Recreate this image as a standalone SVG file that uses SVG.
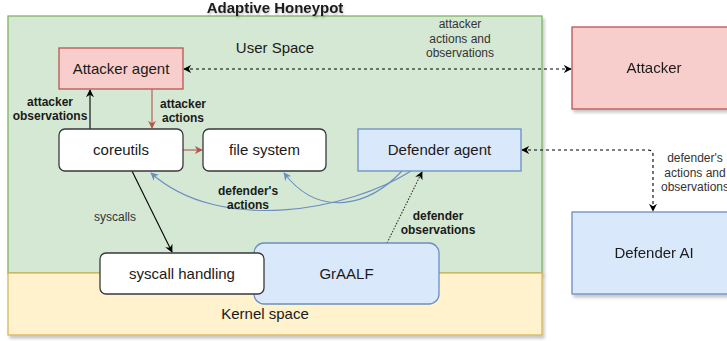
<svg xmlns="http://www.w3.org/2000/svg" width="727" height="341" viewBox="0 0 727 341">
  <defs>
    <filter id="shadow" x="-10%" y="-10%" width="130%" height="140%">
      <feDropShadow dx="2" dy="3" stdDeviation="1.5" flood-color="#000" flood-opacity="0.22"/>
    </filter>
    <filter id="textShadow" x="-10%" y="-30%" width="120%" height="170%">
      <feDropShadow dx="1" dy="2" stdDeviation="1" flood-color="#000" flood-opacity="0.2"/>
    </filter>
    <marker id="arrBlack" viewBox="0 0 10 10" refX="9" refY="5" markerWidth="8" markerHeight="8" markerUnits="userSpaceOnUse" orient="auto-start-reverse">
      <path d="M0,0 L10,5 L0,10 L3,5 z" fill="#000"/>
    </marker>
    <marker id="arrRed" viewBox="0 0 10 10" refX="9" refY="5" markerWidth="8" markerHeight="8" markerUnits="userSpaceOnUse" orient="auto">
      <path d="M0,0 L10,5 L0,10 L3,5 z" fill="#b85450"/>
    </marker>
    <marker id="arrBlue" viewBox="0 0 10 10" refX="9" refY="5" markerWidth="8" markerHeight="8" markerUnits="userSpaceOnUse" orient="auto">
      <path d="M0,0 L10,5 L0,10 L3,5 z" fill="#6c8ebf"/>
    </marker>
  </defs>
  <style>
    text { font-family: "Liberation Sans", Arial, sans-serif; }
    .node { font-size: 15px; fill: #1a1a1a; text-anchor: middle; }
    .lbl { font-size: 12px; fill: #333; text-anchor: middle; }
    .blbl { font-size: 12px; font-weight: bold; fill: #1a1a1a; text-anchor: middle; }
    .red { fill: #f8cecc; stroke: #b85450; stroke-width: 1.3; }
    .blue { fill: #dae8fc; stroke: #6c8ebf; stroke-width: 1.3; }
    .plain { fill: #fff; stroke: #36393d; stroke-width: 1.3; }
    .edge { fill: none; stroke-width: 1.1; }
  </style>

  <!-- containers -->
  <g id="user-space" filter="url(#shadow)">
    <rect x="8" y="16" width="534" height="257" fill="#d5e8d4" stroke="#82b366" stroke-width="1.3"/>
  </g>
  <g id="kernel-space" filter="url(#shadow)">
    <rect x="8" y="273" width="534" height="62" fill="#fff2cc" stroke="#d6b656" stroke-width="1.3"/>
  </g>
  <text x="275" y="12.5" font-size="15" font-weight="bold" fill="#1a1a1a" text-anchor="middle" filter="url(#textShadow)">Adaptive Honeypot</text>
  <text x="275" y="53" class="node">User Space</text>
  <text x="265" y="319" class="node">Kernel space</text>

  <!-- connectors -->
  <g id="connectors">
    <line class="edge" x1="184" y1="69" x2="571" y2="69" stroke="#000" stroke-dasharray="3 3" marker-start="url(#arrBlack)" marker-end="url(#arrBlack)"/>
    <line class="edge" x1="90" y1="129" x2="90" y2="90" stroke="#000" marker-end="url(#arrBlack)"/>
    <line class="edge" x1="152" y1="89" x2="152" y2="128" stroke="#b85450" marker-end="url(#arrRed)"/>
    <line class="edge" x1="183" y1="150" x2="202" y2="150" stroke="#b85450" marker-end="url(#arrRed)"/>
    <line class="edge" x1="132" y1="171" x2="172" y2="252" stroke="#000" marker-end="url(#arrBlack)"/>
    <path class="edge" d="M 411 171 C 350 210, 220 235, 151 173" stroke="#6c8ebf" marker-end="url(#arrBlue)"/>
    <path class="edge" d="M 402 171 C 370 205, 320 220, 284 173" stroke="#6c8ebf" marker-end="url(#arrBlue)"/>
    <line class="edge" x1="387" y1="243" x2="422" y2="172" stroke="#333" stroke-width="0.9" stroke-dasharray="1.5 1.5" marker-end="url(#arrBlack)"/>
    <path class="edge" d="M 522 150 H 648 Q 653 150 653 155 V 211" stroke="#000" stroke-dasharray="3 3" marker-start="url(#arrBlack)" marker-end="url(#arrBlack)"/>

    <text class="lbl" x="460" y="28">attacker</text>
    <text class="lbl" x="460" y="42.5">actions and</text>
    <text class="lbl" x="460" y="57">observations</text>
    <text class="blbl" x="50" y="105.5">attacker</text>
    <text class="blbl" x="50" y="120">observations</text>
    <text class="blbl" x="183" y="108">attacker</text>
    <text class="blbl" x="183" y="122">actions</text>
    <text class="lbl" x="115" y="221">syscalls</text>
    <text class="blbl" x="248" y="195">defender's</text>
    <text class="blbl" x="248" y="209">actions</text>
    <text class="blbl" x="438" y="220">defender</text>
    <text class="blbl" x="438" y="234">observations</text>
    <text class="lbl" x="695" y="162">defender's</text>
    <text class="lbl" x="695" y="177">actions and</text>
    <text class="lbl" x="695" y="191">observations</text>
  </g>

  <!-- nodes -->
  <g id="attacker-agent">
    <rect class="red" x="59" y="48" width="124" height="41"/>
    <text class="node" x="121" y="74">Attacker agent</text>
  </g>
  <g id="coreutils">
    <rect class="plain" x="59" y="129" width="124" height="42" rx="6"/>
    <text class="node" x="121" y="155">coreutils</text>
  </g>
  <g id="file-system">
    <rect class="plain" x="203" y="129" width="123" height="42" rx="6"/>
    <text class="node" x="264.5" y="155">file system</text>
  </g>
  <g id="defender-agent">
    <rect class="blue" x="358" y="129" width="163" height="42"/>
    <text class="node" x="439.5" y="155">Defender agent</text>
  </g>
  <g id="attacker" filter="url(#shadow)">
    <rect class="red" x="572" y="27" width="164" height="82"/>
    <text class="node" x="654" y="73">Attacker</text>
  </g>
  <g id="defender-ai" filter="url(#shadow)">
    <rect class="blue" x="572" y="212" width="164" height="82"/>
    <text class="node" x="654" y="258">Defender AI</text>
  </g>
  <g id="graalf">
    <rect class="blue" x="254" y="243" width="185" height="61" rx="10"/>
    <text class="node" x="346.5" y="279">GrAALF</text>
  </g>
  <g id="syscall-handling">
    <rect class="plain" x="100" y="253" width="164" height="41" rx="6"/>
    <text class="node" x="182" y="279">syscall handling</text>
  </g>
</svg>
